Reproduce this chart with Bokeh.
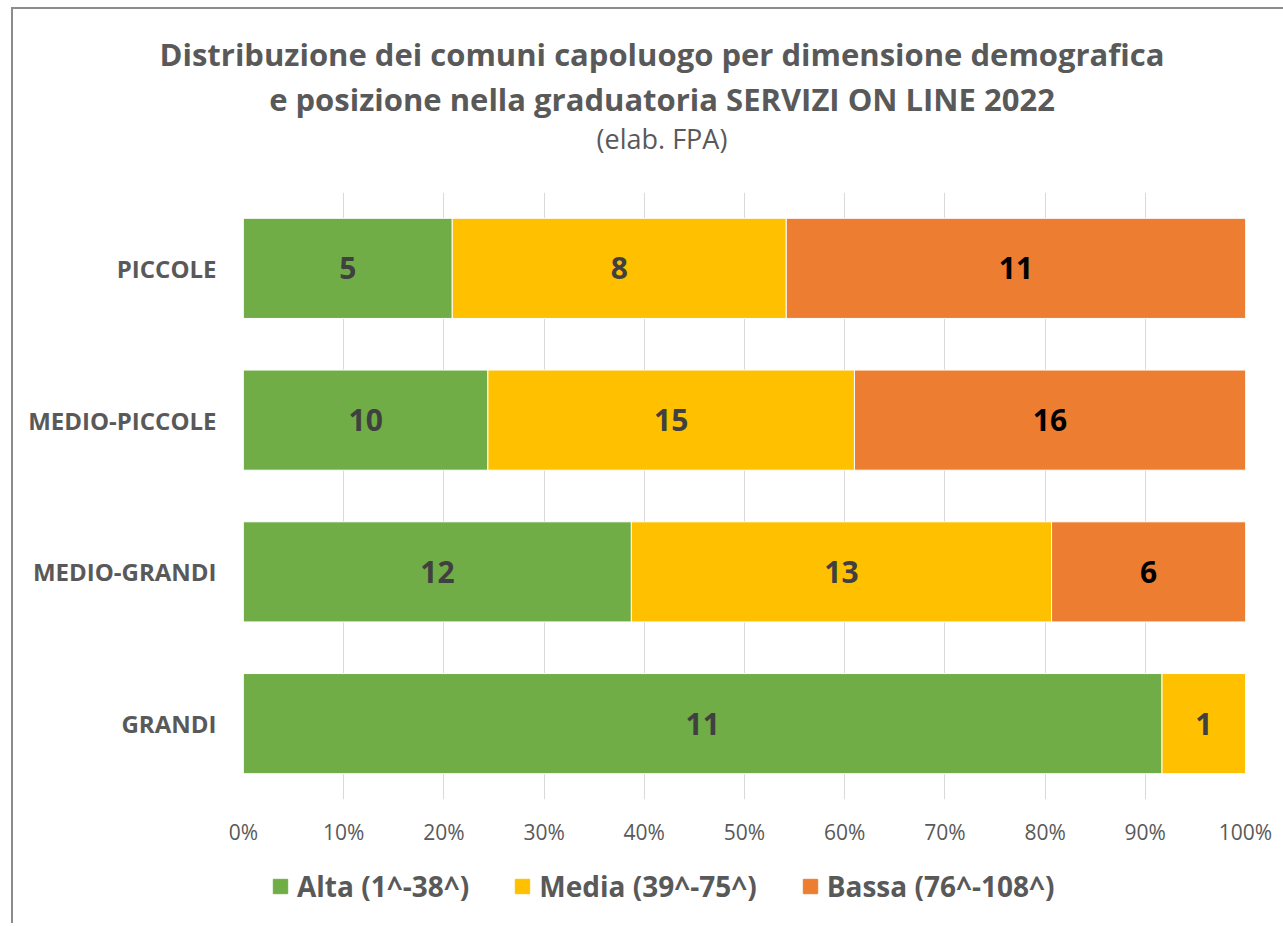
from bokeh.plotting import figure
from bokeh.layouts import column
from bokeh.models import (FactorRange, Range1d, ColumnDataSource, Legend, LegendItem, Div,
                          FixedTicker, CustomJSTickFormatter)
from bokeh.core.properties import value
from bokeh.embed import file_html
from bokeh.resources import INLINE

title_lines = ["Distribuzione dei comuni capoluogo per dimensione demografica",
               "e posizione nella graduatoria SERVIZI ON LINE 2022"]
subtitle = "(elab. FPA)"
categories = ["GRANDI", "MEDIO-GRANDI", "MEDIO-PICCOLE", "PICCOLE"]
alta = [11, 12, 10, 5]
media = [1, 13, 15, 8]
bassa = [0, 6, 16, 11]
series_names = ["Alta (1^-38^)", "Media (39^-75^)", "Bassa (76^-108^)"]
colors = ["#70AD47", "#FFC000", "#ED7D31"]
label_colors = ["#404040", "#404040", "#000000"]
x_ticks = [0, 0.1, 0.2, 0.3, 0.4, 0.5, 0.6, 0.7, 0.8, 0.9, 1.0]

FONT = "Open Sans"
TXT = "#595959"

totals = [a + m + b for a, m, b in zip(alta, media, bassa)]
shares = [[v / t for v, t in zip(s, totals)] for s in (alta, media, bassa)]

W, H0, H1, H2 = 1262, 160, 670, 74

# title block
head = Div(width=W, height=H0,
           text=(f'<div style="width:1288px;text-align:center;font-family:\'{FONT}\';color:{TXT};'
                 f'padding-top:18px;">'
                 f'<div style="font-weight:bold;font-size:31px;line-height:45px;">{title_lines[0]}</div>'
                 f'<div style="font-weight:bold;font-size:31px;line-height:45px;">{title_lines[1]}</div>'
                 f'<div style="font-size:27px;line-height:34px;">{subtitle}</div></div>'),
           styles={"overflow": "visible"})

p = figure(width=W, height=H1, y_range=FactorRange(*categories), x_range=Range1d(0, 1),
           output_backend="svg", toolbar_location=None,
           min_border_left=230, min_border_right=30, min_border_top=13, min_border_bottom=50)
p.title = None
p.outline_line_color = None
p.background_fill_color = "white"
p.border_fill_color = "white"

left = [0.0] * len(categories)
for i, s in enumerate(shares):
    right = [l + v for l, v in zip(left, s)]
    src = ColumnDataSource(dict(y=categories, left=left, right=right))
    p.hbar(y="y", left="left", right="right", height=0.66, source=src,
           fill_color=colors[i], line_color="white", line_width=1)
    raw = (alta, media, bassa)[i]
    lx, ly, lt = [], [], []
    for c, l, rr, v in zip(categories, left, right, raw):
        if v > 0:
            lx.append((l + rr) / 2)
            ly.append(c)
            lt.append(str(v))
    p.text(x=lx, y=ly, text=lt, text_align="center", text_baseline="middle",
           text_font=value(FONT), text_font_style="bold", text_font_size="30px",
           text_color=label_colors[i])
    left = right

p.xaxis.ticker = FixedTicker(ticks=x_ticks)
p.xaxis.formatter = CustomJSTickFormatter(code="return Math.round(tick*100) + '%';")
p.xaxis.axis_line_color = None
p.xaxis.major_tick_line_color = None
p.xaxis.minor_tick_line_color = None
p.xaxis.major_label_text_font = FONT
p.xaxis.major_label_text_font_size = "21px"
p.xaxis.major_label_text_color = TXT
p.xaxis.major_label_standoff = 12

p.yaxis.axis_line_color = None
p.yaxis.major_tick_line_color = None
p.yaxis.minor_tick_line_color = None
p.yaxis.major_label_text_font = FONT
p.yaxis.major_label_text_font_style = "bold"
p.yaxis.major_label_text_font_size = "24px"
p.yaxis.major_label_text_color = TXT
p.yaxis.major_label_standoff = 21

p.xgrid.grid_line_color = "#D9D9D9"
p.xgrid.grid_line_width = 1
p.ygrid.grid_line_color = None

# legend strip
p2 = figure(width=W, height=H2, x_range=Range1d(0, 1), y_range=Range1d(0, 1),
            output_backend="svg", toolbar_location=None,
            x_axis_location=None, y_axis_location=None, min_border=0)
p2.title = None
p2.outline_line_color = None
p2.xgrid.grid_line_color = None
p2.ygrid.grid_line_color = None
items = []
for n, c in zip(series_names, colors):
    r = p2.quad(left=[-3], right=[-2], bottom=[-3], top=[-2], fill_color=c, line_color=c)
    items.append(LegendItem(label=n, renderers=[r]))
legend = Legend(items=items, orientation="horizontal", location=(28, 18), padding=0, margin=0,
                glyph_width=18, glyph_height=18, label_text_font=FONT,
                label_text_font_style="bold", label_text_font_size="28px",
                label_text_color=TXT, spacing=44, label_standoff=8,
                border_line_color=None, background_fill_alpha=0)
p2.add_layout(legend, "center")

layout = column(head, p, p2, spacing=0)
layout.styles = {"border-left": "2px solid #8c8c8c", "border-top": "2px solid #8c8c8c",
                 "margin-left": "11px", "margin-top": "7px"}

open("out.html", "w").write(file_html(layout, INLINE))
